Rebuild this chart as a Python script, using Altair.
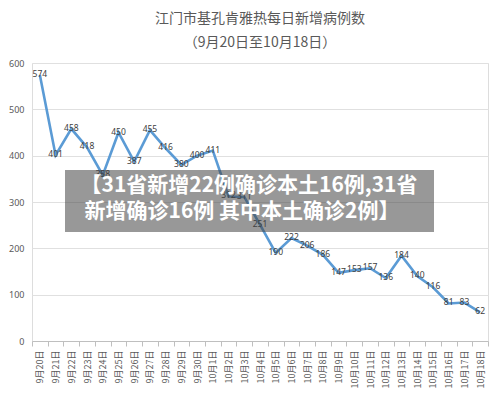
import altair as alt
import pandas as pd

dates = ["9月20日", "9月21日", "9月22日", "9月23日", "9月24日", "9月25日", "9月26日",
         "9月27日", "9月28日", "9月29日", "9月30日", "10月1日", "10月2日", "10月3日",
         "10月4日", "10月5日", "10月6日", "10月7日", "10月8日", "10月9日", "10月10日",
         "10月11日", "10月12日", "10月13日", "10月14日", "10月15日", "10月16日",
         "10月17日", "10月18日"]
cases = [574, 401, 458, 418, 358, 450, 387, 455, 416, 380, 400, 411, 312, 311,
         251, 190, 222, 206, 186, 147, 153, 157, 136, 184, 140, 116, 81, 83, 62]
y_ticks = [0, 100, 200, 300, 400, 500, 600]
title_text = "江门市基孔肯雅热每日新增病例数"
subtitle_text = "（9月20日至10月18日）"
banner_lines = ["【31省新增22例确诊本土16例,31省", "新增确诊16例 其中本土确诊2例】"]

df = pd.DataFrame({"date": dates, "cases": cases})

x_enc = alt.X("date:N", sort=dates,
              scale=alt.Scale(type="band", paddingInner=0, paddingOuter=0),
              axis=alt.Axis(title=None, labelAngle=-90, labelFontSize=9,
                            labelColor="#595959", labelFont="Noto Sans CJK SC",
                            domainColor="#bfbfbf", tickColor="#bfbfbf", tickSize=5,
                            tickBand="extent", labelPadding=4, grid=False))
y_enc = alt.Y("cases:Q", scale=alt.Scale(domain=[0, 600], nice=False),
              axis=alt.Axis(title=None, values=y_ticks, labelFontSize=9,
                            labelColor="#595959", labelFont="Noto Sans",
                            domain=False, ticks=False, labelPadding=8,
                            gridColor="#e0e0e0", gridWidth=1))

base = alt.Chart(df)
line = base.mark_line(color="#5b9bd5", strokeWidth=2.6).encode(x=x_enc, y=y_enc)
labels = base.mark_text(fontSize=8.5, color="#404040", font="Noto Sans", dy=-1).encode(
    x=alt.X("date:N", sort=dates), y="cases:Q", text="cases:Q")

banner = alt.Chart(pd.DataFrame({"a": [0]})).mark_rect(
    fill="#444444", opacity=0.55).encode(
    x=alt.value(33), x2=alt.value(402), y=alt.value(107), y2=alt.value(169))

banner_text1 = alt.Chart(pd.DataFrame({"t": [banner_lines[0]]})).mark_text(
    fontSize=21, fontWeight="bold", color="white", font="Noto Sans CJK SC",
    align="center", baseline="middle").encode(
    text="t:N", x=alt.value(217), y=alt.value(123))
banner_text2 = alt.Chart(pd.DataFrame({"t": [banner_lines[1]]})).mark_text(
    fontSize=21, fontWeight="bold", color="white", font="Noto Sans CJK SC",
    align="center", baseline="middle").encode(
    text="t:N", x=alt.value(210), y=alt.value(149))

chart = alt.layer(line, labels, banner, banner_text1, banner_text2).properties(
    width=456, height=278,
    autosize=alt.AutoSizeParams(type="none"),
    padding={"left": 24, "top": 55, "right": 4, "bottom": 50},
    title=alt.Title(title_text, subtitle=subtitle_text, fontSize=14,
                    font="Noto Sans CJK SC", fontWeight="normal", color="#595959",
                    subtitleFontSize=14, subtitleFont="Noto Sans CJK SC",
                    subtitleColor="#595959", subtitlePadding=10,
                    anchor="middle", offset=9),
).configure_view(stroke=None).configure(background="white")

chart.save("out.html", embed_options={"renderer": "svg", "actions": False})
